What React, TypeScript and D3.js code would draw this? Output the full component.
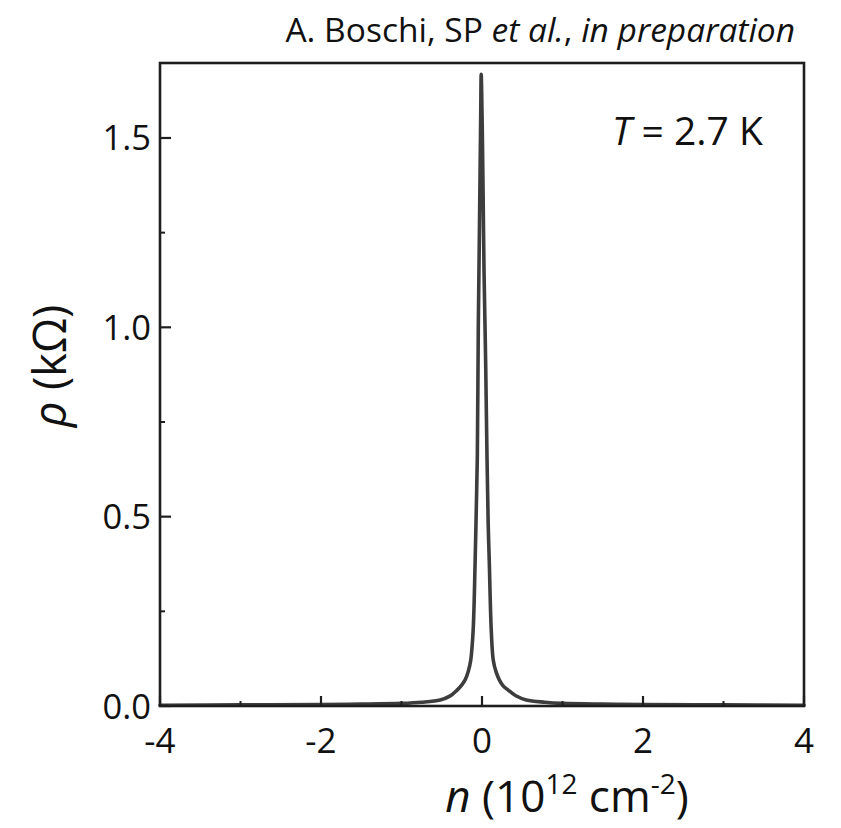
import React from "react";
import * as d3 from "d3";

// carrier density n (10^12 cm^-2)
const nValues = [
  -4, -3, -2, -1.5, -1, -0.75, -0.52, -0.4, -0.31, -0.25, -0.21, -0.17, -0.14, -0.11,
  -0.085, -0.071, -0.058, -0.046, -0.035, -0.025, -0.016, -0.01, -0.004, 0.005, 0.014,
  0.025, 0.036, 0.046, 0.062, 0.077, 0.09, 0.115, 0.14, 0.175, 0.215, 0.26, 0.325,
  0.42, 0.55, 0.78, 1, 1.5, 2, 3, 4,
];
// resistivity rho (kOhm)
const rhoValues = [
  0.002, 0.003, 0.004, 0.005, 0.007, 0.01, 0.016, 0.026, 0.042, 0.056, 0.069, 0.092, 0.121, 0.2,
  0.385, 0.52, 0.66, 1.0, 1.2, 1.39, 1.56, 1.668, 1.62, 1.5, 1.35,
  1.15, 1.02, 0.9, 0.66, 0.48, 0.385, 0.2, 0.121, 0.09, 0.069, 0.054, 0.042,
  0.027, 0.016, 0.01, 0.007, 0.005, 0.004, 0.003, 0.002,
];

const xMajorTicks = [-4, -2, 0, 2, 4];
const xMajorLabels = ["-4", "-2", "0", "2", "4"];
const xMinorTicks = [-3, -1, 1, 3];
const yMajorTicks = [0, 0.5, 1.0, 1.5];
const yMajorLabels = ["0.0", "0.5", "1.0", "1.5"];
const yMinorTicks = [0.25, 0.75, 1.25];

const W = 841;
const H = 828;
const left = 160;
const right = 804;
const top = 63;
const bottom = 706;
const FONT = "'Open Sans', Lato, sans-serif";

export default function App() {
  const x = d3.scaleLinear().domain([-4, 4]).range([left, right]);
  const y = d3.scaleLinear().domain([0, 1.698]).range([bottom, top]);
  const pts = nValues.map((n, i) => [n, rhoValues[i]] as [number, number]);
  const line = d3
    .line<[number, number]>()
    .x((d) => x(d[0]))
    .y((d) => y(d[1]))
    .curve(d3.curveCatmullRom.alpha(0.5));
  const axisColor = "#1e1e1e";
  return (
    <svg
      width={W}
      height={H}
      style={{ position: "absolute", left: 0, top: 0, background: "#fff" }}
      fontFamily={FONT}
    >
      <rect x={0} y={0} width={W} height={H} fill="#fff" />
      <text x={795} y={42} textAnchor="end" fontSize={33.5} fill="#111">
        A. Boschi, SP <tspan fontStyle="italic">et al.</tspan>, <tspan fontStyle="italic">in preparation</tspan>
      </text>

      <path d={line(pts) || ""} fill="none" stroke="#3d3d3d" strokeWidth={3.6} strokeLinejoin="round" strokeLinecap="round" />

      {/* frame */}
      <rect x={left} y={top} width={right - left} height={bottom - top} fill="none" stroke={axisColor} strokeWidth={2.6} />

      {/* x ticks */}
      {xMajorTicks.map((t, i) => (
        <g key={"xm" + t}>
          <line x1={x(t)} x2={x(t)} y1={bottom} y2={bottom - 10} stroke={axisColor} strokeWidth={2.2} />
          <text x={x(t)} y={753} textAnchor="middle" fontSize={35} fill="#111">
            {xMajorLabels[i]}
          </text>
        </g>
      ))}
      {xMinorTicks.map((t) => (
        <line key={"xn" + t} x1={x(t)} x2={x(t)} y1={bottom} y2={bottom - 5} stroke={axisColor} strokeWidth={2} />
      ))}

      {/* y ticks */}
      {yMajorTicks.map((t, i) => (
        <g key={"ym" + t}>
          <line x1={left} x2={left + 11} y1={y(t)} y2={y(t)} stroke={axisColor} strokeWidth={2.2} />
          <text x={151} y={y(t) + 12.5} textAnchor="end" fontSize={34.5} fill="#111">
            {yMajorLabels[i]}
          </text>
        </g>
      ))}
      {yMinorTicks.map((t) => (
        <line key={"yn" + t} x1={left} x2={left + 5} y1={y(t)} y2={y(t)} stroke={axisColor} strokeWidth={2} />
      ))}

      <text x={612} y={145} fontSize={39} fill="#111">
        <tspan fontStyle="italic">T</tspan> = 2.7 K
      </text>

      {/* x axis title */}
      <text x={567} y={812} textAnchor="middle" fontSize={44} fill="#111">
        <tspan fontStyle="italic">n</tspan> (10<tspan fontSize={28} dy={-18}>12</tspan>
        <tspan dy={18}> cm</tspan>
        <tspan fontSize={28} dy={-18}>-2</tspan>
        <tspan dy={18}>)</tspan>
      </text>

      {/* y axis title */}
      <text transform="translate(66,366) rotate(-90)" textAnchor="middle" fontSize={45} fill="#111">
        <tspan fontStyle="italic">ρ</tspan> (kΩ)
      </text>
    </svg>
  );
}
